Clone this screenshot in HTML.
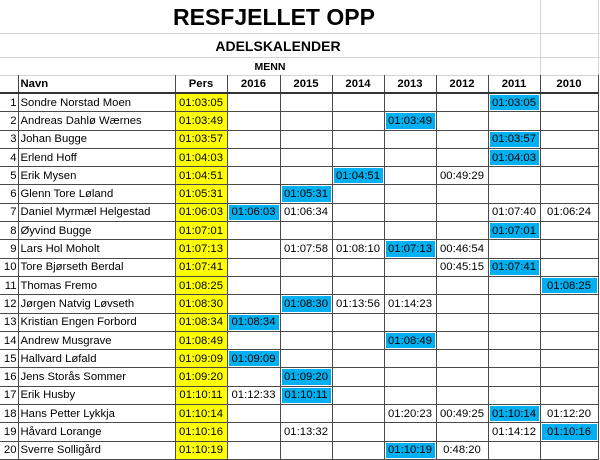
<!DOCTYPE html>
<html><head><meta charset="utf-8">
<style>
html,body{margin:0;padding:0;background:#fff;width:600px;height:460px;overflow:hidden}
body{font-family:"Liberation Sans",sans-serif;color:#000;position:relative}
.t{position:absolute;font-weight:bold;text-align:center;white-space:nowrap}
.hl{position:absolute;left:0;width:600px;height:1px;background:#d4d4d4}
.vl{position:absolute;width:1px;background:#d4d4d4}
table{position:absolute;left:0;top:75px;border-collapse:collapse;table-layout:fixed;font-size:11.3px}
td{padding:0 2px;white-space:nowrap;overflow:hidden;border:1px solid #4a4a4a;height:17.3px;line-height:16px}
tr.h td{font-weight:bold;text-align:center;border-top:1px solid #d4d4d4;border-bottom:2px solid #333;height:15px}
tr.h td.nv{text-align:left}
td.i{text-align:right;padding-right:1px}
td.p{background:#ffff00;text-align:center}
td.c{text-align:center}
td.b{background:#00b0f0;box-shadow:inset 0 0 0 1px #fff}
</style></head><body>
<div class="hl" style="top:33px"></div>
<div class="hl" style="top:57px"></div>
<div class="vl" style="left:540px;top:0;height:75px"></div>
<div class="vl" style="left:598px;top:0;height:460px"></div>
<div class="t" style="left:173px;width:200px;top:4px;font-size:23px">RESFJELLET OPP</div>
<div class="t" style="left:203px;width:150px;top:38px;font-size:14px">ADELSKALENDER</div>
<div class="t" style="left:240px;width:60px;top:61px;font-size:10.5px">MENN</div>
<table>
<colgroup><col style="width:18px"><col style="width:157px"><col style="width:52px"><col style="width:53px"><col style="width:52px"><col style="width:52px"><col style="width:52px"><col style="width:52px"><col style="width:52px"><col style="width:58px"></colgroup>
<tbody id="tb">
<tr class="h"><td style="border-left:none"></td><td class="nv">Navn</td><td>Pers</td><td>2016</td><td>2015</td><td>2014</td><td>2013</td><td>2012</td><td>2011</td><td>2010</td></tr>
</tbody></table>
<script>
const names=["Sondre Norstad Moen","Andreas Dahlø Wærnes","Johan Bugge","Erlend Hoff","Erik Mysen","Glenn Tore Løland","Daniel Myrmæl Helgestad","Øyvind Bugge","Lars Hol Moholt","Tore Bjørseth Berdal","Thomas Fremo","Jørgen Natvig Løvseth","Kristian Engen Forbord","Andrew Musgrave","Hallvard Løfald","Jens Storås Sommer","Erik Husby","Hans Petter Lykkja","Håvard Lorange","Sverre Solligård"];
const pers=["01:03:05","01:03:49","01:03:57","01:04:03","01:04:51","01:05:31","01:06:03","01:07:01","01:07:13","01:07:41","01:08:25","01:08:30","01:08:34","01:08:49","01:09:09","01:09:20","01:10:11","01:10:14","01:10:16","01:10:19"];
// columns: 2016,2015,2014,2013,2012,2011,2010
const years=[
["","","","","","01:03:05",""],
["","","","01:03:49","","",""],
["","","","","","01:03:57",""],
["","","","","","01:04:03",""],
["","","01:04:51","","00:49:29","",""],
["","01:05:31","","","","",""],
["01:06:03","01:06:34","","","","01:07:40","01:06:24"],
["","","","","","01:07:01",""],
["","01:07:58","01:08:10","01:07:13","00:46:54","",""],
["","","","","00:45:15","01:07:41",""],
["","","","","","","01:08:25"],
["","01:08:30","01:13:56","01:14:23","","",""],
["01:08:34","","","","","",""],
["","","","01:08:49","","",""],
["01:09:09","","","","","",""],
["","01:09:20","","","","",""],
["01:12:33","01:10:11","","","","",""],
["","","","01:20:23","00:49:25","01:10:14","01:12:20"],
["","01:13:32","","","","01:14:12","01:10:16"],
["","","","01:10:19","0:48:20","",""]
];
const tb=document.getElementById('tb');
names.forEach((n,i)=>{
  const tr=document.createElement('tr');
  
  
  const a=document.createElement('td');a.className='i';a.textContent=i+1;a.style.borderLeft='none';
  
  
  tr.appendChild(a);
  const b=document.createElement('td');b.textContent=n;
  
  
  tr.appendChild(b);
  const p=document.createElement('td');p.className='p';p.textContent=pers[i];
  
  
  tr.appendChild(p);
  years[i].forEach(v=>{
    const c=document.createElement('td');c.className='c'+(v&&v===pers[i]?' b':'');c.textContent=v;
    
    
    tr.appendChild(c);
  });
  tb.appendChild(tr);
});
</script>
</body></html>
